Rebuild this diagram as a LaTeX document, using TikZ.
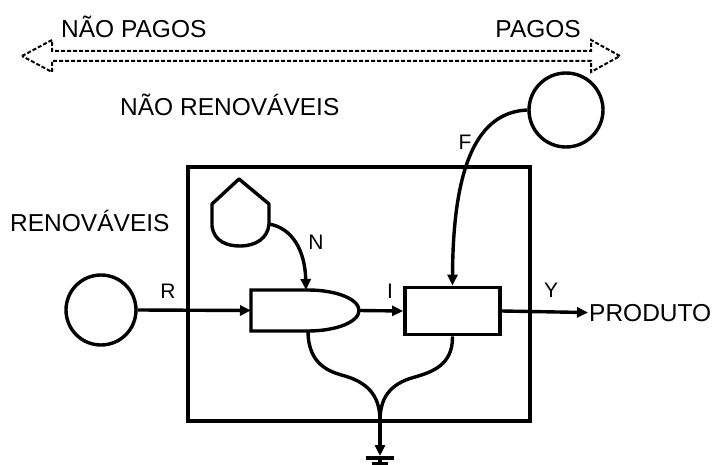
\documentclass[tikz,border=0pt]{standalone}
\usepackage{fontspec}
\setmainfont{Liberation Sans}
\usetikzlibrary{arrows.meta}
\begin{document}
\begin{tikzpicture}[x=1pt,y=-1pt,
  wire/.style={line width=3.4pt},
  flow/.style={line width=3.4pt,-{Triangle[length=11pt,width=10pt]}},
  big/.style={font=\fontsize{24.5}{27}\selectfont, inner sep=0pt},
  lab/.style={font=\fontsize{21}{24}\selectfont, inner sep=0pt},
  src/.style={circle,draw,line width=3.4pt,inner sep=0pt},
  boxed/.style={draw,line width=3.4pt,inner sep=0pt}]
\useasboundingbox (0,0) rectangle (712,465);
\clip (0,0) rectangle (712,465);
% top double arrow
\draw[line width=2pt, dash pattern=on 4pt off 2pt]
  (22,56) -- (52,40) -- (52,51) -- (591,51) -- (591,40) -- (620,56)
  -- (591,72) -- (591,61) -- (52,61) -- (52,72) -- cycle;
\node[big,anchor=base west] (np) at (61,38) {NÃO PAGOS};
\node[big,anchor=base east] (pg) at (581,38) {PAGOS};
\node[big,anchor=base west] (nr) at (120,116) {NÃO RENOVÁVEIS};
\node[big,anchor=base west] (rn) at (10,231) {RENOVÁVEIS};
% system box
\node[boxed,minimum width=342pt,minimum height=254pt] (sys) at (359,294) {};
% sources
\node[src,minimum size=70pt] (R) at (101,310) {};
\node[src,minimum size=74pt] (F) at (566,110) {};
% storage tank
\draw[wire,line join=round] (239,179) -- (212,204) -- (212,226)
  .. controls (214,242) and (228,246) .. (240,246)
  .. controls (256,246) and (268,238) .. (269,224) -- (269,204) -- cycle;
\coordinate (Nout) at (269,224);
% interaction block
\draw[wire] (308,290) -- (251,290) -- (251,331) -- (308,331)
  .. controls (336,331) and (359,322) .. (359,310.5)
  .. controls (359,299) and (336,290) .. (308,290);
\coordinate (Iin) at (251,310.5);
\coordinate (Itop) at (306,290);
\coordinate (Itip) at (359,310.5);
\coordinate (Ibot) at (308,331);
% production box
\node[boxed,line width=3.8pt,minimum width=95pt,minimum height=47pt] (P) at (452.5,311) {};
\node[big,anchor=base west] (prod) at (589,321) {PRODUTO};
% labels
\node[lab,anchor=base] (lR) at (168,298) {R};
\node[lab,anchor=base] (lN) at (316,250) {N};
\node[lab,anchor=base] (lI) at (390,298) {I};
\node[lab,anchor=base] (lY) at (551,297) {Y};
\node[lab,anchor=base] (lF) at (465,150) {F};
% connectors
\draw[flow] (R.east) -- (Iin);
\draw[flow] (Nout) .. controls (292,228) and (305,250) .. (Itop);
\draw[flow] (Itip) -- (P.west);
\draw[flow] (F.west) .. controls (485,112) and (453,150) .. (P.north);
\draw[flow,shorten >=1pt] (P.east) -- (prod.west);
% heat sink
\coordinate (J) at (380,421);
\coordinate (G) at (380,456);
\draw[wire] (Ibot) .. controls (308,365) and (330,372) .. (345,376)
  .. controls (372,384) and (380,400) .. (J);
\draw[wire] (P.south) .. controls (453,365) and (432,372) .. (415,377)
  .. controls (388,384) and (380,400) .. (J);
\draw[flow] (J) -- (G);
\draw[wire] (366,458) -- (394,458);
\draw[wire] (372,464) -- (388,464);
\draw[wire] (380,456) -- (380,470);
\end{tikzpicture}
\end{document}
